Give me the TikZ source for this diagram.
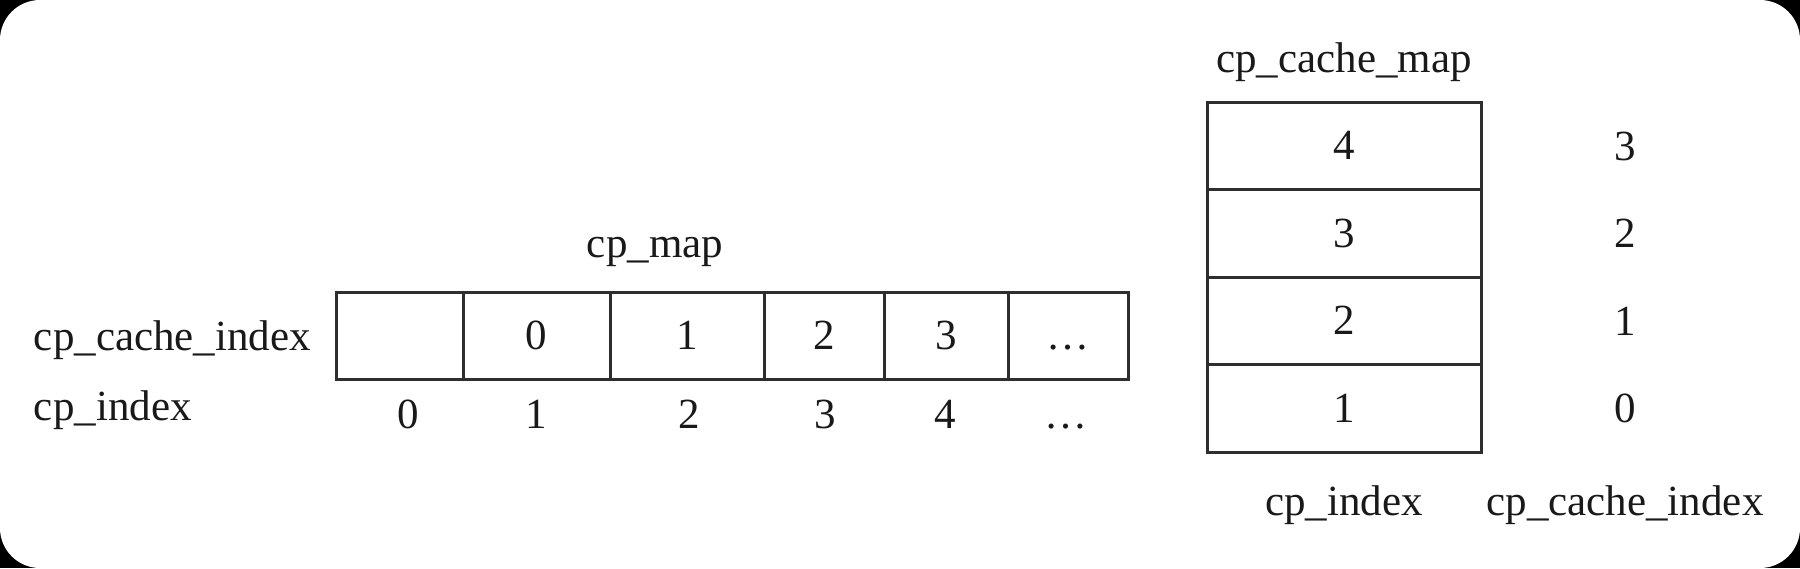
\documentclass[tikz,border=0pt]{standalone}
\usepackage{fontspec}
\setmainfont{Liberation Serif}
\begin{document}
\begin{tikzpicture}[x=1pt,y=-1pt,
  every node/.style={font=\fontsize{43}{51}\selectfont, text=black!90, inner sep=0pt, outer sep=0pt},
  cellbox/.style={draw=black!82, line width=3pt, anchor=north west, minimum height=87.5pt},
  lbl/.style={anchor=base}]
\useasboundingbox (0,0) rectangle (1800,568);
\fill[black] (0,0) rectangle (1800,568);
\fill[white, rounded corners=40pt] (0,0) rectangle (1800,568);

% cp_map row
\node[cellbox, minimum width=127pt] (m0) at (336,292) {};
\node[cellbox, minimum width=147pt] (m1) at (463,292) {\vphantom{0}0};
\node[cellbox, minimum width=154pt] (m2) at (610,292) {\vphantom{0}1};
\node[cellbox, minimum width=120pt] (m3) at (764,292) {\vphantom{0}2};
\node[cellbox, minimum width=124pt] (m4) at (884,292) {\vphantom{0}3};
\node[cellbox, minimum width=120pt] (m5) at (1008,292) {\vphantom{0}…};

\node[lbl] (cpmap) at (655,257) {cp\_map};
\node[lbl, anchor=base west] (lcci) at (34,350) {cp\_cache\_index};
\node[lbl, anchor=base west] (lci) at (34,420) {cp\_index};

\node[lbl] (i0) at (408,428) {0};
\node[lbl] (i1) at (536,428) {1};
\node[lbl] (i2) at (689,428) {2};
\node[lbl] (i3) at (825,428) {3};
\node[lbl] (i4) at (945,428) {4};
\node[lbl] (i5) at (1066,428) {…};

% cp_cache_map column
\node[cellbox, minimum width=274pt] (c4) at (1207,102) {4};
\node[cellbox, minimum width=274pt] (c3) at (1207,189.5) {3};
\node[cellbox, minimum width=274pt] (c2) at (1207,277) {2};
\node[cellbox, minimum width=274pt] (c1) at (1207,364.5) {1};

\node[lbl] (ccm) at (1344,72) {cp\_cache\_map};
\node (r3) at (1625,146) {3};
\node (r2) at (1625,233.5) {2};
\node (r1) at (1625,321) {1};
\node (r0) at (1625,408.5) {0};
\node[lbl] (bci) at (1344,515) {cp\_index};
\node[lbl] (bcci) at (1625,515) {cp\_cache\_index};
\end{tikzpicture}
\end{document}
